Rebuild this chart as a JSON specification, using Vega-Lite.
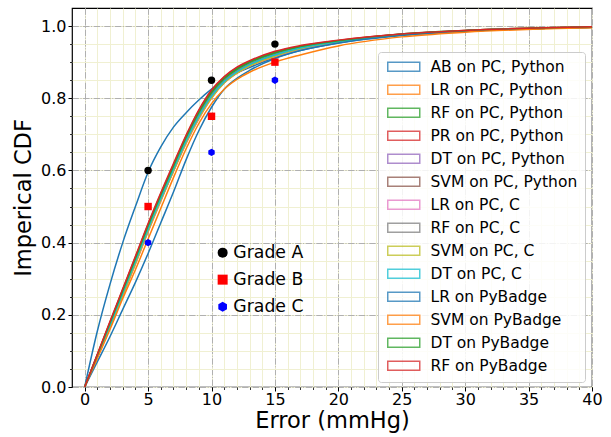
{
"$schema":"https://vega.github.io/schema/vega-lite/v6.json",
"width":520,"height":379,
"autosize":{"type":"none"},
"padding":{"left":72,"top":8,"right":19,"bottom":50},
"config":{
 "font":"DejaVu Sans",
 "view":{"stroke":"black","strokeWidth":1.2},
 "axis":{"labelFont":"DejaVu Sans","titleFont":"DejaVu Sans","labelColor":"black","titleColor":"black","tickColor":"black","domain":false,"titleFontWeight":"normal","labelFlush":false},
 "legend":{"labelFont":"DejaVu Sans","labelColor":"black"}
},
"datasets":{
"grades":[
{"grade":"Grade A","err":5,"cdf":0.6},{"grade":"Grade A","err":10,"cdf":0.85},{"grade":"Grade A","err":15,"cdf":0.95},
{"grade":"Grade B","err":5,"cdf":0.5},{"grade":"Grade B","err":10,"cdf":0.75},{"grade":"Grade B","err":15,"cdf":0.9},
{"grade":"Grade C","err":5,"cdf":0.4},{"grade":"Grade C","err":10,"cdf":0.65},{"grade":"Grade C","err":15,"cdf":0.85}
],
"curves":[
{"model":"AB on PC, Python","err":0,"cdf":0},{"model":"AB on PC, Python","err":1,"cdf":0.155},{"model":"AB on PC, Python","err":2,"cdf":0.285},{"model":"AB on PC, Python","err":3,"cdf":0.4},{"model":"AB on PC, Python","err":4,"cdf":0.5},{"model":"AB on PC, Python","err":5,"cdf":0.595},{"model":"AB on PC, Python","err":6,"cdf":0.665},{"model":"AB on PC, Python","err":7,"cdf":0.72},{"model":"AB on PC, Python","err":8,"cdf":0.76},{"model":"AB on PC, Python","err":9,"cdf":0.795},{"model":"AB on PC, Python","err":10,"cdf":0.825},{"model":"AB on PC, Python","err":11,"cdf":0.85},{"model":"AB on PC, Python","err":12,"cdf":0.87},{"model":"AB on PC, Python","err":13,"cdf":0.885},{"model":"AB on PC, Python","err":15,"cdf":0.912},{"model":"AB on PC, Python","err":17,"cdf":0.932},{"model":"AB on PC, Python","err":20,"cdf":0.953},{"model":"AB on PC, Python","err":25,"cdf":0.975},{"model":"AB on PC, Python","err":30,"cdf":0.986},{"model":"AB on PC, Python","err":40,"cdf":0.997},
{"model":"LR on PC, Python","err":0,"cdf":0},{"model":"LR on PC, Python","err":1,"cdf":0.082},{"model":"LR on PC, Python","err":2,"cdf":0.165},{"model":"LR on PC, Python","err":3,"cdf":0.253},{"model":"LR on PC, Python","err":4,"cdf":0.34},{"model":"LR on PC, Python","err":5,"cdf":0.43},{"model":"LR on PC, Python","err":6,"cdf":0.515},{"model":"LR on PC, Python","err":7,"cdf":0.597},{"model":"LR on PC, Python","err":8,"cdf":0.675},{"model":"LR on PC, Python","err":9,"cdf":0.743},{"model":"LR on PC, Python","err":10,"cdf":0.8},{"model":"LR on PC, Python","err":11,"cdf":0.842},{"model":"LR on PC, Python","err":12,"cdf":0.869},{"model":"LR on PC, Python","err":13,"cdf":0.889},{"model":"LR on PC, Python","err":15,"cdf":0.915},{"model":"LR on PC, Python","err":17,"cdf":0.935},{"model":"LR on PC, Python","err":20,"cdf":0.955},{"model":"LR on PC, Python","err":25,"cdf":0.975},{"model":"LR on PC, Python","err":30,"cdf":0.986},{"model":"LR on PC, Python","err":40,"cdf":0.997},
{"model":"RF on PC, Python","err":0,"cdf":0},{"model":"RF on PC, Python","err":1,"cdf":0.088},{"model":"RF on PC, Python","err":2,"cdf":0.176},{"model":"RF on PC, Python","err":3,"cdf":0.265},{"model":"RF on PC, Python","err":4,"cdf":0.354},{"model":"RF on PC, Python","err":5,"cdf":0.445},{"model":"RF on PC, Python","err":6,"cdf":0.53},{"model":"RF on PC, Python","err":7,"cdf":0.61},{"model":"RF on PC, Python","err":8,"cdf":0.69},{"model":"RF on PC, Python","err":9,"cdf":0.758},{"model":"RF on PC, Python","err":10,"cdf":0.813},{"model":"RF on PC, Python","err":11,"cdf":0.852},{"model":"RF on PC, Python","err":12,"cdf":0.878},{"model":"RF on PC, Python","err":13,"cdf":0.897},{"model":"RF on PC, Python","err":15,"cdf":0.924},{"model":"RF on PC, Python","err":17,"cdf":0.941},{"model":"RF on PC, Python","err":20,"cdf":0.958},{"model":"RF on PC, Python","err":25,"cdf":0.977},{"model":"RF on PC, Python","err":30,"cdf":0.987},{"model":"RF on PC, Python","err":40,"cdf":0.997},
{"model":"PR on PC, Python","err":0,"cdf":0},{"model":"PR on PC, Python","err":1,"cdf":0.09},{"model":"PR on PC, Python","err":2,"cdf":0.18},{"model":"PR on PC, Python","err":3,"cdf":0.27},{"model":"PR on PC, Python","err":4,"cdf":0.36},{"model":"PR on PC, Python","err":5,"cdf":0.45},{"model":"PR on PC, Python","err":6,"cdf":0.535},{"model":"PR on PC, Python","err":7,"cdf":0.615},{"model":"PR on PC, Python","err":8,"cdf":0.695},{"model":"PR on PC, Python","err":9,"cdf":0.765},{"model":"PR on PC, Python","err":10,"cdf":0.82},{"model":"PR on PC, Python","err":11,"cdf":0.858},{"model":"PR on PC, Python","err":12,"cdf":0.884},{"model":"PR on PC, Python","err":13,"cdf":0.902},{"model":"PR on PC, Python","err":15,"cdf":0.928},{"model":"PR on PC, Python","err":17,"cdf":0.944},{"model":"PR on PC, Python","err":20,"cdf":0.96},{"model":"PR on PC, Python","err":25,"cdf":0.978},{"model":"PR on PC, Python","err":30,"cdf":0.988},{"model":"PR on PC, Python","err":40,"cdf":0.998},
{"model":"DT on PC, Python","err":0,"cdf":0},{"model":"DT on PC, Python","err":1,"cdf":0.085},{"model":"DT on PC, Python","err":2,"cdf":0.17},{"model":"DT on PC, Python","err":3,"cdf":0.26},{"model":"DT on PC, Python","err":4,"cdf":0.348},{"model":"DT on PC, Python","err":5,"cdf":0.438},{"model":"DT on PC, Python","err":6,"cdf":0.522},{"model":"DT on PC, Python","err":7,"cdf":0.603},{"model":"DT on PC, Python","err":8,"cdf":0.682},{"model":"DT on PC, Python","err":9,"cdf":0.75},{"model":"DT on PC, Python","err":10,"cdf":0.806},{"model":"DT on PC, Python","err":11,"cdf":0.846},{"model":"DT on PC, Python","err":12,"cdf":0.873},{"model":"DT on PC, Python","err":13,"cdf":0.893},{"model":"DT on PC, Python","err":15,"cdf":0.92},{"model":"DT on PC, Python","err":17,"cdf":0.939},{"model":"DT on PC, Python","err":20,"cdf":0.957},{"model":"DT on PC, Python","err":25,"cdf":0.976},{"model":"DT on PC, Python","err":30,"cdf":0.987},{"model":"DT on PC, Python","err":40,"cdf":0.997},
{"model":"SVM on PC, Python","err":0,"cdf":0},{"model":"SVM on PC, Python","err":1,"cdf":0.084},{"model":"SVM on PC, Python","err":2,"cdf":0.168},{"model":"SVM on PC, Python","err":3,"cdf":0.257},{"model":"SVM on PC, Python","err":4,"cdf":0.345},{"model":"SVM on PC, Python","err":5,"cdf":0.435},{"model":"SVM on PC, Python","err":6,"cdf":0.519},{"model":"SVM on PC, Python","err":7,"cdf":0.6},{"model":"SVM on PC, Python","err":8,"cdf":0.679},{"model":"SVM on PC, Python","err":9,"cdf":0.747},{"model":"SVM on PC, Python","err":10,"cdf":0.803},{"model":"SVM on PC, Python","err":11,"cdf":0.844},{"model":"SVM on PC, Python","err":12,"cdf":0.871},{"model":"SVM on PC, Python","err":13,"cdf":0.891},{"model":"SVM on PC, Python","err":15,"cdf":0.918},{"model":"SVM on PC, Python","err":17,"cdf":0.937},{"model":"SVM on PC, Python","err":20,"cdf":0.956},{"model":"SVM on PC, Python","err":25,"cdf":0.976},{"model":"SVM on PC, Python","err":30,"cdf":0.987},{"model":"SVM on PC, Python","err":40,"cdf":0.997},
{"model":"LR on PC, C","err":0,"cdf":0},{"model":"LR on PC, C","err":1,"cdf":0.083},{"model":"LR on PC, C","err":2,"cdf":0.166},{"model":"LR on PC, C","err":3,"cdf":0.255},{"model":"LR on PC, C","err":4,"cdf":0.342},{"model":"LR on PC, C","err":5,"cdf":0.432},{"model":"LR on PC, C","err":6,"cdf":0.517},{"model":"LR on PC, C","err":7,"cdf":0.599},{"model":"LR on PC, C","err":8,"cdf":0.677},{"model":"LR on PC, C","err":9,"cdf":0.745},{"model":"LR on PC, C","err":10,"cdf":0.802},{"model":"LR on PC, C","err":11,"cdf":0.843},{"model":"LR on PC, C","err":12,"cdf":0.87},{"model":"LR on PC, C","err":13,"cdf":0.89},{"model":"LR on PC, C","err":15,"cdf":0.916},{"model":"LR on PC, C","err":17,"cdf":0.936},{"model":"LR on PC, C","err":20,"cdf":0.955},{"model":"LR on PC, C","err":25,"cdf":0.975},{"model":"LR on PC, C","err":30,"cdf":0.986},{"model":"LR on PC, C","err":40,"cdf":0.997},
{"model":"RF on PC, C","err":0,"cdf":0},{"model":"RF on PC, C","err":1,"cdf":0.087},{"model":"RF on PC, C","err":2,"cdf":0.174},{"model":"RF on PC, C","err":3,"cdf":0.263},{"model":"RF on PC, C","err":4,"cdf":0.352},{"model":"RF on PC, C","err":5,"cdf":0.443},{"model":"RF on PC, C","err":6,"cdf":0.528},{"model":"RF on PC, C","err":7,"cdf":0.608},{"model":"RF on PC, C","err":8,"cdf":0.687},{"model":"RF on PC, C","err":9,"cdf":0.755},{"model":"RF on PC, C","err":10,"cdf":0.811},{"model":"RF on PC, C","err":11,"cdf":0.85},{"model":"RF on PC, C","err":12,"cdf":0.876},{"model":"RF on PC, C","err":13,"cdf":0.895},{"model":"RF on PC, C","err":15,"cdf":0.922},{"model":"RF on PC, C","err":17,"cdf":0.94},{"model":"RF on PC, C","err":20,"cdf":0.957},{"model":"RF on PC, C","err":25,"cdf":0.977},{"model":"RF on PC, C","err":30,"cdf":0.987},{"model":"RF on PC, C","err":40,"cdf":0.997},
{"model":"SVM on PC, C","err":0,"cdf":0},{"model":"SVM on PC, C","err":1,"cdf":0.084},{"model":"SVM on PC, C","err":2,"cdf":0.167},{"model":"SVM on PC, C","err":3,"cdf":0.256},{"model":"SVM on PC, C","err":4,"cdf":0.343},{"model":"SVM on PC, C","err":5,"cdf":0.433},{"model":"SVM on PC, C","err":6,"cdf":0.518},{"model":"SVM on PC, C","err":7,"cdf":0.599},{"model":"SVM on PC, C","err":8,"cdf":0.678},{"model":"SVM on PC, C","err":9,"cdf":0.746},{"model":"SVM on PC, C","err":10,"cdf":0.802},{"model":"SVM on PC, C","err":11,"cdf":0.843},{"model":"SVM on PC, C","err":12,"cdf":0.87},{"model":"SVM on PC, C","err":13,"cdf":0.89},{"model":"SVM on PC, C","err":15,"cdf":0.917},{"model":"SVM on PC, C","err":17,"cdf":0.937},{"model":"SVM on PC, C","err":20,"cdf":0.956},{"model":"SVM on PC, C","err":25,"cdf":0.976},{"model":"SVM on PC, C","err":30,"cdf":0.986},{"model":"SVM on PC, C","err":40,"cdf":0.997},
{"model":"DT on PC, C","err":0,"cdf":0},{"model":"DT on PC, C","err":1,"cdf":0.085},{"model":"DT on PC, C","err":2,"cdf":0.17},{"model":"DT on PC, C","err":3,"cdf":0.26},{"model":"DT on PC, C","err":4,"cdf":0.348},{"model":"DT on PC, C","err":5,"cdf":0.438},{"model":"DT on PC, C","err":6,"cdf":0.522},{"model":"DT on PC, C","err":7,"cdf":0.603},{"model":"DT on PC, C","err":8,"cdf":0.682},{"model":"DT on PC, C","err":9,"cdf":0.75},{"model":"DT on PC, C","err":10,"cdf":0.806},{"model":"DT on PC, C","err":11,"cdf":0.846},{"model":"DT on PC, C","err":12,"cdf":0.873},{"model":"DT on PC, C","err":13,"cdf":0.893},{"model":"DT on PC, C","err":15,"cdf":0.92},{"model":"DT on PC, C","err":17,"cdf":0.939},{"model":"DT on PC, C","err":20,"cdf":0.957},{"model":"DT on PC, C","err":25,"cdf":0.976},{"model":"DT on PC, C","err":30,"cdf":0.987},{"model":"DT on PC, C","err":40,"cdf":0.997},
{"model":"LR on PyBadge","err":0,"cdf":0},{"model":"LR on PyBadge","err":1,"cdf":0.07},{"model":"LR on PyBadge","err":2,"cdf":0.14},{"model":"LR on PyBadge","err":3,"cdf":0.215},{"model":"LR on PyBadge","err":4,"cdf":0.29},{"model":"LR on PyBadge","err":5,"cdf":0.37},{"model":"LR on PyBadge","err":6,"cdf":0.455},{"model":"LR on PyBadge","err":7,"cdf":0.54},{"model":"LR on PyBadge","err":8,"cdf":0.63},{"model":"LR on PyBadge","err":9,"cdf":0.71},{"model":"LR on PyBadge","err":10,"cdf":0.775},{"model":"LR on PyBadge","err":11,"cdf":0.825},{"model":"LR on PyBadge","err":12,"cdf":0.855},{"model":"LR on PyBadge","err":13,"cdf":0.877},{"model":"LR on PyBadge","err":15,"cdf":0.91},{"model":"LR on PyBadge","err":17,"cdf":0.932},{"model":"LR on PyBadge","err":20,"cdf":0.953},{"model":"LR on PyBadge","err":25,"cdf":0.974},{"model":"LR on PyBadge","err":30,"cdf":0.986},{"model":"LR on PyBadge","err":40,"cdf":0.997},
{"model":"SVM on PyBadge","err":0,"cdf":0},{"model":"SVM on PyBadge","err":1,"cdf":0.08},{"model":"SVM on PyBadge","err":2,"cdf":0.16},{"model":"SVM on PyBadge","err":3,"cdf":0.245},{"model":"SVM on PyBadge","err":4,"cdf":0.325},{"model":"SVM on PyBadge","err":5,"cdf":0.41},{"model":"SVM on PyBadge","err":6,"cdf":0.495},{"model":"SVM on PyBadge","err":7,"cdf":0.58},{"model":"SVM on PyBadge","err":8,"cdf":0.66},{"model":"SVM on PyBadge","err":9,"cdf":0.73},{"model":"SVM on PyBadge","err":10,"cdf":0.785},{"model":"SVM on PyBadge","err":11,"cdf":0.825},{"model":"SVM on PyBadge","err":12,"cdf":0.852},{"model":"SVM on PyBadge","err":13,"cdf":0.872},{"model":"SVM on PyBadge","err":15,"cdf":0.9},{"model":"SVM on PyBadge","err":17,"cdf":0.92},{"model":"SVM on PyBadge","err":20,"cdf":0.945},{"model":"SVM on PyBadge","err":25,"cdf":0.97},{"model":"SVM on PyBadge","err":30,"cdf":0.983},{"model":"SVM on PyBadge","err":40,"cdf":0.995},
{"model":"DT on PyBadge","err":0,"cdf":0},{"model":"DT on PyBadge","err":1,"cdf":0.089},{"model":"DT on PyBadge","err":2,"cdf":0.178},{"model":"DT on PyBadge","err":3,"cdf":0.267},{"model":"DT on PyBadge","err":4,"cdf":0.356},{"model":"DT on PyBadge","err":5,"cdf":0.447},{"model":"DT on PyBadge","err":6,"cdf":0.532},{"model":"DT on PyBadge","err":7,"cdf":0.612},{"model":"DT on PyBadge","err":8,"cdf":0.692},{"model":"DT on PyBadge","err":9,"cdf":0.761},{"model":"DT on PyBadge","err":10,"cdf":0.816},{"model":"DT on PyBadge","err":11,"cdf":0.855},{"model":"DT on PyBadge","err":12,"cdf":0.881},{"model":"DT on PyBadge","err":13,"cdf":0.9},{"model":"DT on PyBadge","err":15,"cdf":0.926},{"model":"DT on PyBadge","err":17,"cdf":0.943},{"model":"DT on PyBadge","err":20,"cdf":0.959},{"model":"DT on PyBadge","err":25,"cdf":0.978},{"model":"DT on PyBadge","err":30,"cdf":0.988},{"model":"DT on PyBadge","err":40,"cdf":0.998},
{"model":"RF on PyBadge","err":0,"cdf":0},{"model":"RF on PyBadge","err":1,"cdf":0.091},{"model":"RF on PyBadge","err":2,"cdf":0.182},{"model":"RF on PyBadge","err":3,"cdf":0.272},{"model":"RF on PyBadge","err":4,"cdf":0.362},{"model":"RF on PyBadge","err":5,"cdf":0.453},{"model":"RF on PyBadge","err":6,"cdf":0.538},{"model":"RF on PyBadge","err":7,"cdf":0.619},{"model":"RF on PyBadge","err":8,"cdf":0.698},{"model":"RF on PyBadge","err":9,"cdf":0.768},{"model":"RF on PyBadge","err":10,"cdf":0.823},{"model":"RF on PyBadge","err":11,"cdf":0.86},{"model":"RF on PyBadge","err":12,"cdf":0.886},{"model":"RF on PyBadge","err":13,"cdf":0.904},{"model":"RF on PyBadge","err":15,"cdf":0.93},{"model":"RF on PyBadge","err":17,"cdf":0.946},{"model":"RF on PyBadge","err":20,"cdf":0.961},{"model":"RF on PyBadge","err":25,"cdf":0.978},{"model":"RF on PyBadge","err":30,"cdf":0.988},{"model":"RF on PyBadge","err":40,"cdf":0.998}
]},
"layer":[
 {"data":{"name":"grades"},"mark":{"type":"point","opacity":0},
  "encoding":{
   "x":{"field":"err","type":"quantitative","scale":{"domain":[-1,40],"nice":false,"zero":false},
        "axis":{"orient":"bottom","values":[0,1,2,3,4,5,6,7,8,9,10,11,12,13,14,15,16,17,18,19,20,21,22,23,24,25,26,27,28,29,30,31,32,33,34,35,36,37,38,39,40],"grid":true,"gridColor":"#f0f0d2","gridWidth":1,"labels":false,"ticks":true,"tickSize":2.5,"tickWidth":0.8,"title":null}},
   "y":{"field":"cdf","type":"quantitative","scale":{"domain":[0,1.05],"nice":false,"zero":false},
        "axis":{"orient":"left","values":[0,0.05,0.1,0.15,0.2,0.25,0.3,0.35,0.4,0.45,0.5,0.55,0.6,0.65,0.7,0.75,0.8,0.85,0.9,0.95,1.0],"grid":true,"gridColor":"#f0f0d2","gridWidth":1,"labels":false,"ticks":true,"tickSize":2.5,"tickWidth":0.8,"title":null}}
  }},
 {"data":{"name":"curves"},"mark":{"type":"line","strokeWidth":1.5,"interpolate":"monotone"},
  "encoding":{
   "x":{"field":"err","type":"quantitative","scale":{"domain":[-1,40],"nice":false,"zero":false},
        "axis":{"orient":"bottom","values":[0,5,10,15,20,25,30,35,40],"labelFlush":false,"grid":true,"gridColor":"#b0b0b0","gridWidth":1,"gridDash":[6.4,1.6,1,1.6],"tickSize":4,"tickWidth":1,"labelFontSize":16,"labelPadding":0,"title":"Error (mmHg)","titleFontSize":22.5,"titlePadding":2}},
   "y":{"field":"cdf","type":"quantitative","scale":{"domain":[0,1.05],"nice":false,"zero":false},
        "axis":{"orient":"left","values":[0,0.2,0.4,0.6,0.8,1.0],"format":".1f","grid":true,"gridColor":"#b0b0b0","gridWidth":1,"gridDash":[6.4,1.6,1,1.6],"tickSize":4,"tickWidth":1,"labelFontSize":16,"labelPadding":2,"title":"Imperical CDF","titleFontSize":22.5,"titlePadding":5}},
   "color":{"field":"model","type":"nominal","sort":null,
     "scale":{"domain":["AB on PC, Python","LR on PC, Python","RF on PC, Python","PR on PC, Python","DT on PC, Python","SVM on PC, Python","LR on PC, C","RF on PC, C","SVM on PC, C","DT on PC, C","LR on PyBadge","SVM on PyBadge","DT on PyBadge","RF on PyBadge"],
       "range":["#1f77b4","#ff7f0e","#2ca02c","#d62728","#9467bd","#8c564b","#e377c2","#7f7f7f","#bcbd22","#17becf","#1f77b4","#ff7f0e","#2ca02c","#d62728"]},
     "legend":{"orient":"none","legendX":306,"legendY":44,"title":null,"labelFontSize":15.5,"labelLimit":300,"labelOffset":19,
       "symbolType":"M-3.2,-0.9H3.2V0.9H-3.2Z","symbolSize":100,"symbolOffset":11,"symbolStrokeWidth":1.5,"symbolOpacity":0.75,"symbolFillColor":"transparent",
       "fillColor":"rgba(255,255,255,0.85)","strokeColor":"#cccccc","cornerRadius":3,"padding":7,"rowPadding":6}}
  }},
 {"data":{"name":"grades"},"mark":{"type":"point","filled":true,"opacity":1,"size":55},
  "encoding":{
   "x":{"field":"err","type":"quantitative","scale":{"domain":[-1,40],"nice":false,"zero":false},"axis":null},
   "y":{"field":"cdf","type":"quantitative","scale":{"domain":[0,1.05],"nice":false,"zero":false},"axis":null},
   "color":{"field":"grade","type":"nominal","scale":{"domain":["Grade A","Grade B","Grade C"],"range":["black","red","blue"]},
     "legend":{"orient":"none","legendX":142,"legendY":236,"title":null,"labelFontSize":17.3,"labelOffset":2,"rowPadding":9,"padding":0,
       "encode":{"labels":{"update":{"fill":{"signal":"datum.value==='Grade A'?'black':(datum.value==='Grade B'?'red':'blue')"}}}}}},
   "shape":{"field":"grade","type":"nominal","scale":{"domain":["Grade A","Grade B","Grade C"],"range":["circle","square","M0,-1L0.866,-0.5L0.866,0.5L0,1L-0.866,0.5L-0.866,-0.5Z"]},
     "legend":{"orient":"none","legendX":142,"legendY":236,"title":null,"labelFontSize":17.3,"labelOffset":2,"rowPadding":9,"padding":0,
       "encode":{"labels":{"update":{"fill":{"signal":"datum.value==='Grade A'?'black':(datum.value==='Grade B'?'red':'blue')"}}}}}}
  }}
],
"resolve":{"scale":{"color":"independent","shape":"independent"},"axis":{"x":"independent","y":"independent"}}
}
